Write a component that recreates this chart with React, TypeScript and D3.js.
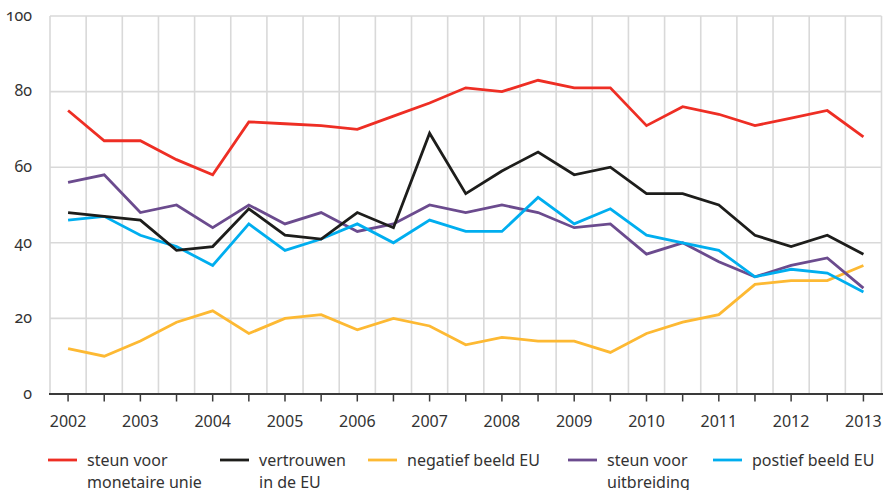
import React from "react";
import * as d3 from "d3";

const periods: string[] = [
  "2002", "2002.5", "2003", "2003.5", "2004", "2004.5", "2005", "2005.5", "2006", "2006.5",
  "2007", "2007.5", "2008", "2008.5", "2009", "2009.5", "2010", "2010.5", "2011", "2011.5",
  "2012", "2012.5", "2013",
];
const yearLabels: string[] = ["2002", "2003", "2004", "2005", "2006", "2007", "2008", "2009", "2010", "2011", "2012", "2013"];
const yTicks: number[] = [0, 20, 40, 60, 80, 100];

const steunMonetaireUnie: number[] = [75, 67, 67, 62, 58, 72, 71.5, 71, 70, 73.5, 77, 81, 80, 83, 81, 81, 71, 76, 74, 71, 73, 75, 68];
const vertrouwenEU: number[] = [48, 47, 46, 38, 39, 49, 42, 41, 48, 44, 69, 53, 59, 64, 58, 60, 53, 53, 50, 42, 39, 42, 37];
const negatiefBeeldEU: number[] = [12, 10, 14, 19, 22, 16, 20, 21, 17, 20, 18, 13, 15, 14, 14, 11, 16, 19, 21, 29, 30, 30, 34];
const steunUitbreiding: number[] = [56, 58, 48, 50, 44, 50, 45, 48, 43, 45, 50, 48, 50, 48, 44, 45, 37, 40, 35, 31, 34, 36, 28];
const positiefBeeldEU: number[] = [46, 47, 42, 39, 34, 45, 38, 41, 45, 40, 46, 43, 43, 52, 45, 49, 42, 40, 38, 31, 33, 32, 27];

const seriesNames: string[][] = [
  ["steun voor", "monetaire unie"],
  ["vertrouwen", "in de EU"],
  ["negatief beeld EU"],
  ["steun voor", "uitbreiding"],
  ["postief beeld EU"],
];
const seriesColors: string[] = ["#ee2e24", "#1d1d1b", "#fdb933", "#6b4b8e", "#00aeef"];
const seriesValues: number[][] = [steunMonetaireUnie, vertrouwenEU, negatiefBeeldEU, steunUitbreiding, positiefBeeldEU];
// draw order (bottom to top)
const drawOrder: number[] = [2, 3, 4, 1, 0];

const W = 884;
const H = 490;
const left = 50;
const right = 881.5;
const top = 16;
const bottom = 394;
const legendX: number[] = [48, 220, 368, 568, 713];

export default function App() {
  const x = d3.scaleBand<string>().domain(periods).range([left, right]).paddingInner(0).paddingOuter(0);
  const y = d3.scaleLinear().domain([0, 100]).range([bottom, top]);
  const cx = (p: string) => (x(p) as number) + x.bandwidth() / 2;
  const line = d3
    .line<number>()
    .x((_, i) => cx(periods[i]))
    .y((d) => y(d));

  const font = "'Noto Sans', 'Open Sans', sans-serif";
  const boundaries = periods.map((p) => x(p) as number).concat([right]);

  return (
    <svg
      width={W}
      height={H}
      style={{ position: "absolute", left: 0, top: 0, background: "#fff" }}
      fontFamily={font}
    >
      {/* horizontal grid */}
      {yTicks.filter((t) => t > 0).map((t) => (
        <line key={"h" + t} x1={left} x2={right} y1={y(t)} y2={y(t)} stroke="#d9d9d9" strokeWidth={1.6} />
      ))}
      {/* vertical grid */}
      {boundaries.map((bx, i) => (
        <line key={"v" + i} x1={bx} x2={bx} y1={top} y2={bottom} stroke="#d9d9d9" strokeWidth={1.6} />
      ))}
      {/* y labels */}
      {yTicks.map((t) => (
        <text
          key={"yl" + t}
          x={32}
          y={y(t)}
          dy="0.3em"
          textAnchor="end"
          fontSize={16}
          fill="#333"
          style={{ fontVariantNumeric: "oldstyle-nums" }}
        >
          {t}
        </text>
      ))}
      {/* series */}
      {drawOrder.map((si) => (
        <path
          key={"s" + si}
          d={line(seriesValues[si]) as string}
          fill="none"
          stroke={seriesColors[si]}
          strokeWidth={2.8}
          strokeLinejoin="miter"
        />
      ))}
      {/* x axis */}
      <line x1={49} x2={883} y1={bottom} y2={bottom} stroke="#3a3a3a" strokeWidth={2} />
      {periods.map((p) => (
        <line key={"t" + p} x1={cx(p)} x2={cx(p)} y1={bottom} y2={bottom + 7.5} stroke="#3a3a3a" strokeWidth={1.5} />
      ))}
      {yearLabels.map((yl) => (
        <text key={"xl" + yl} x={cx(yl)} y={427} textAnchor="middle" fontSize={16} fill="#333">
          {yl}
        </text>
      ))}
      {/* legend */}
      {seriesNames.map((lines, i) => (
        <g key={"lg" + i}>
          <line x1={legendX[i]} x2={legendX[i] + 29} y1={460} y2={460} stroke={seriesColors[i]} strokeWidth={2.8} />
          {lines.map((ln, j) => (
            <text key={j} x={legendX[i] + 39} y={465.5 + j * 22} fontSize={16} fill="#333">
              {ln}
            </text>
          ))}
        </g>
      ))}
    </svg>
  );
}
